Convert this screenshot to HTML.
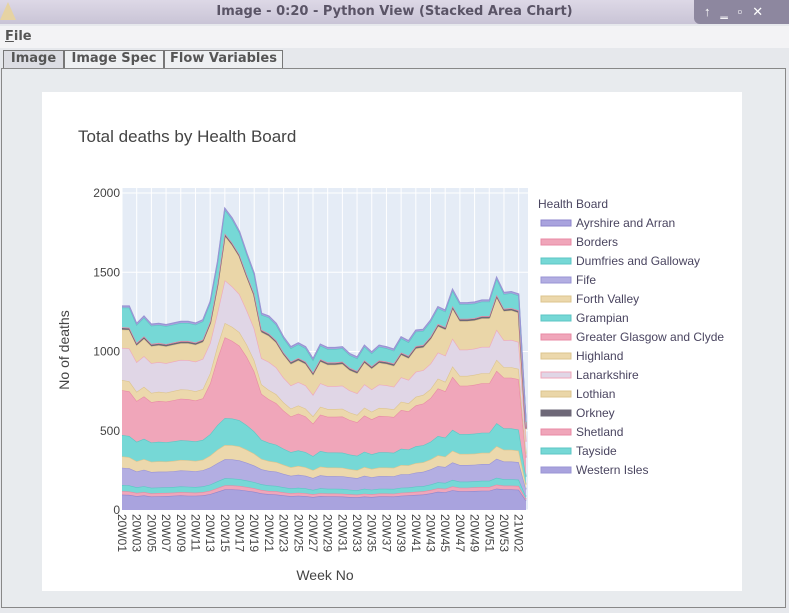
<!DOCTYPE html>
<html><head><meta charset="utf-8"><style>
body{margin:0;width:789px;height:613px;overflow:hidden;background:#e6e8ec;font-family:"Liberation Sans",sans-serif;position:relative}
.abs{position:absolute}
</style></head><body>
<div class="abs" style="left:0;top:0;width:789px;height:24px;background:linear-gradient(#ddd8e6,#c9c4d6)"></div>
<div class="abs" style="left:0;top:2px;width:0;height:0;border-left:8px solid transparent;border-right:8px solid transparent;border-bottom:18px solid #e6d3a3"></div>
<div class="abs" style="left:0;top:4px;width:789px;text-align:center;font-size:13px;font-weight:bold;color:#5a5466;font-family:'DejaVu Sans',sans-serif">Image - 0:20 - Python View (Stacked Area Chart)</div>
<div class="abs" style="left:694px;top:0;width:95px;height:24px;background:#8d879f;border-radius:0 0 0 6px;color:#fff;font-size:13px;letter-spacing:10px;line-height:24px;padding-left:10px;box-sizing:border-box">↑‗▫✕</div>
<div class="abs" style="left:0;top:26px;width:789px;height:22px;background:#f3f3f5"></div>
<div class="abs" style="left:5px;top:29px;font-size:13px;font-weight:bold;color:#555;font-family:'DejaVu Sans',sans-serif"><u>F</u>ile</div>
<div class="abs" style="left:3px;top:50px;width:59px;height:17px;border:1px solid #777;border-bottom:none;background:#dcdde3;font-size:13px;font-weight:bold;color:#555;text-align:center;font-family:'DejaVu Sans',sans-serif">Image</div>
<div class="abs" style="left:64px;top:50px;width:98px;height:17px;border:1px solid #777;border-bottom:none;background:#eef0f2;font-size:13px;font-weight:bold;color:#555;text-align:center;font-family:'DejaVu Sans',sans-serif">Image Spec</div>
<div class="abs" style="left:164px;top:50px;width:117px;height:17px;border:1px solid #777;border-bottom:none;background:#eef0f2;font-size:13px;font-weight:bold;color:#555;text-align:center;font-family:'DejaVu Sans',sans-serif">Flow Variables</div>
<div class="abs" style="left:1px;top:68px;width:783px;height:538px;border:1px solid #888;background:#e8ebee"></div>
<div class="abs" style="left:42px;top:92px;width:700px;height:499px;background:#fff"></div>
<svg class="abs" style="left:0;top:0" width="789" height="613" id="chart">
<rect x="122" y="188" width="406" height="322" fill="#e5ecf6"/>
<text x="78" y="142" font-size="17" fill="#444">Total deaths by Health Board</text>
<text transform="translate(69,350) rotate(-90)" text-anchor="middle" font-size="14" fill="#444">No of deaths</text>
<text x="325" y="580" text-anchor="middle" font-size="14" fill="#444">Week No</text>
<text x="538" y="208" font-size="12" fill="#4a4560">Health Board</text>
<g id="grid"></g><g id="areas"></g><g id="axes"></g><g id="legend"></g>
</svg>
<script>
const names=["Ayrshire and Arran","Borders","Dumfries and Galloway","Fife","Forth Valley","Grampian","Greater Glasgow and Clyde","Highland","Lanarkshire","Lothian","Orkney","Shetland","Tayside","Western Isles"];
const fills=["#a9a3de","#f0a6ba","#76d8d6","#b3aee2","#ecd8ac","#76d8d6","#f0a6ba","#ecd8ac","#e0d6e6","#ead6a8","#6e6878","#f0a6ba","#76d8d6","#a9a3de"];
const lines=["#8e86cc","#e88aa4","#5cc6c4","#9a94d4","#dcc48e","#5cc6c4","#e88aa4","#dcc48e","#f0a6ba","#dcc48e","#6e6878","#e88aa4","#5cc6c4","#9a94d4"];
const weeks=[];for(let i=1;i<=53;i++)weeks.push("20W"+String(i).padStart(2,"0"));weeks.push("21W01","21W02","21W03");
const yTicks=[0,500,1000,1500,2000];
const ayr=[97,95,88,92,85,87,88,90,92,90,90,92,100,115,130,130,128,122,115,105,100,98,92,88,90,88,82,88,86,86,85,82,80,85,82,86,86,85,90,92,95,98,105,115,112,125,118,118,120,122,122,135,130,130,128,60];
const bord=[22,22,20,21,20,20,20,20,21,21,20,21,22,24,25,25,24,23,22,21,20,20,19,18,19,18,17,18,18,18,18,17,17,18,17,18,18,18,19,19,20,20,21,22,22,24,23,23,23,23,23,25,24,24,24,10];
const dum=[39,38,35,37,35,35,35,35,36,36,35,36,38,42,45,44,43,41,39,36,35,34,32,30,31,30,28,31,30,30,30,29,28,31,29,30,30,30,32,31,33,33,35,38,37,41,38,38,38,39,39,43,40,40,40,15];
const fife=[109,108,100,104,100,100,99,100,101,101,100,102,108,115,120,120,118,112,105,95,92,90,85,80,82,80,75,82,80,80,80,78,76,82,79,80,80,80,85,84,88,90,95,102,100,110,105,105,105,106,106,120,112,112,110,45];
const forth=[71,70,65,67,64,65,64,65,66,66,65,66,75,85,90,90,88,82,75,65,62,60,57,54,56,54,50,55,54,54,54,52,51,55,52,54,54,53,58,56,60,60,63,68,66,74,70,70,70,71,71,80,74,74,73,30];
const gram=[135,134,122,128,122,123,122,123,124,124,123,125,135,155,170,168,165,155,140,120,115,110,102,95,98,95,88,98,95,95,95,92,90,97,93,96,96,95,102,100,106,108,112,122,120,132,125,125,126,127,127,145,135,135,132,50];
const ggc=[283,282,258,268,255,258,256,260,262,262,258,262,320,420,510,490,470,430,380,290,275,262,240,225,232,225,205,230,225,225,228,218,212,228,220,230,228,226,245,240,258,262,275,300,292,335,305,305,308,312,312,330,320,320,318,120];
const high=[64,63,58,60,58,58,57,58,59,59,58,59,65,80,90,88,85,78,70,60,58,56,52,50,51,50,46,50,49,49,49,47,46,50,48,50,49,49,52,51,54,55,57,62,60,66,62,62,63,63,63,70,66,66,65,25];
const lan=[203,207,187,194,188,187,186,186,186,187,187,190,190,210,270,255,240,215,200,165,177,169,156,146,148,146,136,148,145,145,146,139,136,148,141,148,146,142,154,148,158,156,160,165,165,175,166,166,165,166,166,190,170,172,170,75];
const loth=[115,117,106,110,106,106,105,105,105,106,106,107,120,170,280,260,235,210,205,165,164,156,144,135,137,135,126,137,134,134,136,128,126,136,131,137,135,131,142,137,147,144,155,165,165,190,180,180,178,180,180,205,184,186,185,80];
const ork=[10,10,10,10,10,10,10,10,10,10,10,10,10,10,10,10,10,10,10,10,10,10,10,10,10,10,10,10,10,10,10,10,10,10,10,10,10,10,10,10,10,10,10,10,10,10,10,10,10,10,10,10,10,10,10,4];
const shet=[5,5,5,5,5,5,5,5,5,5,5,5,5,5,5,5,5,5,5,5,5,5,5,5,5,5,5,5,5,5,5,5,5,5,5,5,5,5,5,5,5,5,5,5,5,5,5,5,5,5,5,5,5,5,5,2];
const tay=[124,126,113,118,115,113,113,113,113,113,113,115,117,127,150,147,137,127,118,94,101,97,89,84,86,84,78,85,84,84,84,80,79,85,81,86,83,81,89,85,91,89,95,99,98,96,91,91,91,91,91,101,92,94,93,40];
const wi=[10,10,10,10,10,10,10,10,10,10,10,10,10,10,10,10,10,10,10,10,10,10,10,10,10,10,10,10,10,10,10,10,10,10,10,10,10,10,10,10,10,10,10,10,10,10,10,10,10,10,10,10,10,10,10,4];
const series=[ayr,bord,dum,fife,forth,gram,ggc,high,lan,loth,ork,shet,tay,wi];
const X0=122,X1=526,Y0=510,YS=317/2000;
const xs=i=>X0+i*(X1-X0)/(weeks.length-1);
const ys=v=>Y0-v*YS;
const NS="http://www.w3.org/2000/svg";
function mk(t,a){const e=document.createElementNS(NS,t);for(const k in a)e.setAttribute(k,a[k]);return e;}
const grid=document.getElementById('grid'),areas=document.getElementById('areas'),axes=document.getElementById('axes'),legend=document.getElementById('legend');
weeks.forEach((w,i)=>{if(i%2)return;const l=mk('line',{x1:xs(i),x2:xs(i),y1:188,y2:510,stroke:'#fff','stroke-width':1});


grid.appendChild(l);
const t=mk('text',{transform:`translate(${xs(i)-4},514) rotate(90)`,'font-size':12,fill:'#444'});t.textContent=w;


axes.appendChild(t);});
yTicks.forEach(v=>{const l=mk('line',{x1:122,x2:528,y1:ys(v),y2:ys(v),stroke:'#fff','stroke-width':1});


grid.appendChild(l);
const t=mk('text',{x:120,y:ys(v)+4,'text-anchor':'end','font-size':12,fill:'#444'});t.textContent=v;


axes.appendChild(t);});
let base=weeks.map(()=>0);
series.forEach((s,k)=>{const top=base.map((b,i)=>b+s[i]);
let d='M'+top.map((v,i)=>xs(i).toFixed(1)+','+ys(v).toFixed(1)).join('L');
for(let i=base.length-1;i>=0;i--)d+='L'+xs(i).toFixed(1)+','+ys(base[i]).toFixed(1);d+='Z';
const p=mk('path',{d:d,fill:fills[k]});


areas.appendChild(p);
const ln=mk('polyline',{points:top.map((v,i)=>xs(i).toFixed(1)+','+ys(v).toFixed(1)).join(' '),fill:'none',stroke:lines[k],'stroke-width':k==10?2:1.2});


areas.appendChild(ln);
base=top;
const y=223+k*19;
const g=mk('g',{});


g.appendChild(mk('rect',{x:541,y:y-3,width:30,height:6,fill:fills[k],stroke:lines[k],'stroke-width':1}));
const t=mk('text',{x:576,y:y+4,'font-size':12,fill:'#4a4560'});t.textContent=names[k];g.appendChild(t);
legend.appendChild(g);});
</script>
</body></html>
